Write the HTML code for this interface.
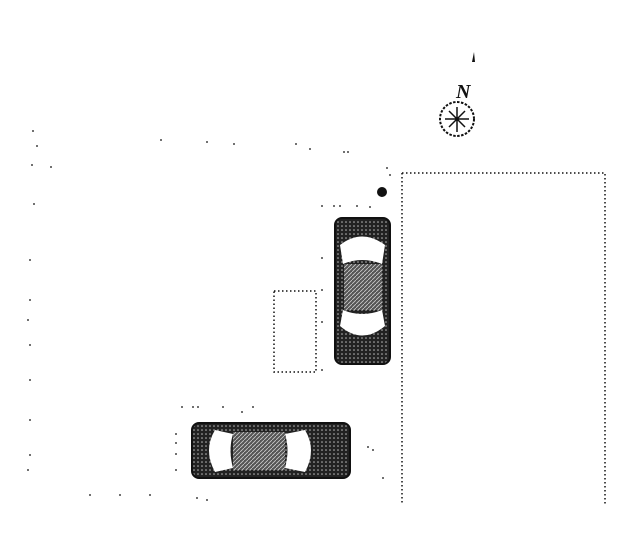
<!DOCTYPE html>
<html><head><meta charset="utf-8"><style>html,body{margin:0;padding:0;background:#fff}svg{display:block}</style></head>
<body>
<svg width="640" height="543" viewBox="0 0 640 543" xmlns="http://www.w3.org/2000/svg">
<defs>
<pattern id="dk" width="4" height="4" patternUnits="userSpaceOnUse"><rect width="4" height="4" fill="#222"/><circle cx="2" cy="2" r="0.8" fill="#bbb"/></pattern>
<pattern id="hz" width="4" height="4" patternUnits="userSpaceOnUse"><rect width="4" height="4" fill="#555"/><path d="M0 4L4 0" stroke="#ccc" stroke-width="0.8"/></pattern>
</defs>
<g fill="none" stroke="#111" stroke-width="1.5" stroke-dasharray="1.5 2.5">
<path d="M402 173H605V505"/>
<path d="M402 173V505"/>
<rect x="274" y="291" width="42" height="81"/>
</g>
<g fill="#444">
<circle cx="33" cy="131" r="1"/><circle cx="37" cy="146" r="1"/><circle cx="32" cy="165" r="1"/><circle cx="51" cy="167" r="1"/><circle cx="34" cy="204" r="1"/>
<circle cx="161" cy="140" r="1"/><circle cx="207" cy="142" r="1"/><circle cx="234" cy="144" r="1"/><circle cx="296" cy="144" r="1"/><circle cx="310" cy="149" r="1"/><circle cx="344" cy="152" r="1"/><circle cx="348" cy="152" r="1"/>
<circle cx="322" cy="206" r="1"/><circle cx="334" cy="206" r="1"/><circle cx="340" cy="206" r="1"/><circle cx="357" cy="206" r="1"/><circle cx="370" cy="207" r="1"/>
<circle cx="322" cy="258" r="1"/><circle cx="322" cy="290" r="1"/><circle cx="322" cy="322" r="1"/><circle cx="322" cy="370" r="1"/>
<circle cx="30" cy="260" r="1"/><circle cx="30" cy="300" r="1"/><circle cx="28" cy="320" r="1"/><circle cx="30" cy="345" r="1"/><circle cx="30" cy="380" r="1"/><circle cx="30" cy="420" r="1"/><circle cx="30" cy="455" r="1"/><circle cx="28" cy="470" r="1"/>
<circle cx="182" cy="407" r="1"/><circle cx="193" cy="407" r="1"/><circle cx="198" cy="407" r="1"/><circle cx="223" cy="407" r="1"/><circle cx="253" cy="407" r="1"/><circle cx="242" cy="412" r="1"/>
<circle cx="176" cy="434" r="1"/><circle cx="176" cy="443" r="1"/><circle cx="176" cy="454" r="1"/><circle cx="176" cy="470" r="1"/>
<circle cx="368" cy="447" r="1"/><circle cx="373" cy="450" r="1"/><circle cx="383" cy="478" r="1"/>
<circle cx="197" cy="498" r="1"/><circle cx="207" cy="500" r="1"/><circle cx="90" cy="495" r="1"/><circle cx="120" cy="495" r="1"/><circle cx="150" cy="495" r="1"/>
<circle cx="387" cy="168" r="1"/><circle cx="390" cy="175" r="1"/>
</g>
<circle cx="382" cy="192" r="5" fill="#111"/>
<g>
<rect x="335" y="218" width="55" height="146" rx="7" fill="url(#dk)" stroke="#111" stroke-width="2"/>
<path d="M340 245 Q362 228 385 245 L382 264 Q362 256 343 264Z" fill="#fff"/>
<rect x="344" y="264" width="38" height="46" fill="url(#hz)"/>
<path d="M343 310 Q362 318 382 310 L385 326 Q362 345 340 326Z" fill="#fff"/>
</g>
<g>
<rect x="192" y="423" width="158" height="55" rx="7" fill="url(#dk)" stroke="#111" stroke-width="2"/>
<path d="M215 430 Q203 450 215 472 L233 468 Q228 450 233 434Z" fill="#fff"/>
<rect x="233" y="432" width="52" height="38" fill="url(#hz)"/>
<path d="M285 434 Q290 450 285 468 L305 472 Q317 450 305 430Z" fill="#fff"/>
</g>
<g stroke="#111" fill="none">
<circle cx="457" cy="119" r="17" stroke-width="2" stroke-dasharray="2.5 1.5"/>
<path d="M445 119H469M457 107V132M449 111L465 127M465 111L449 127" stroke-width="1.5"/>
</g>
<text x="456" y="98" font-family="Liberation Serif, serif" font-size="20" font-style="italic" font-weight="bold" fill="#111">N</text>
<path d="M472 62 L474 52 L475 62Z" fill="#111"/>
</svg>
</body></html>
